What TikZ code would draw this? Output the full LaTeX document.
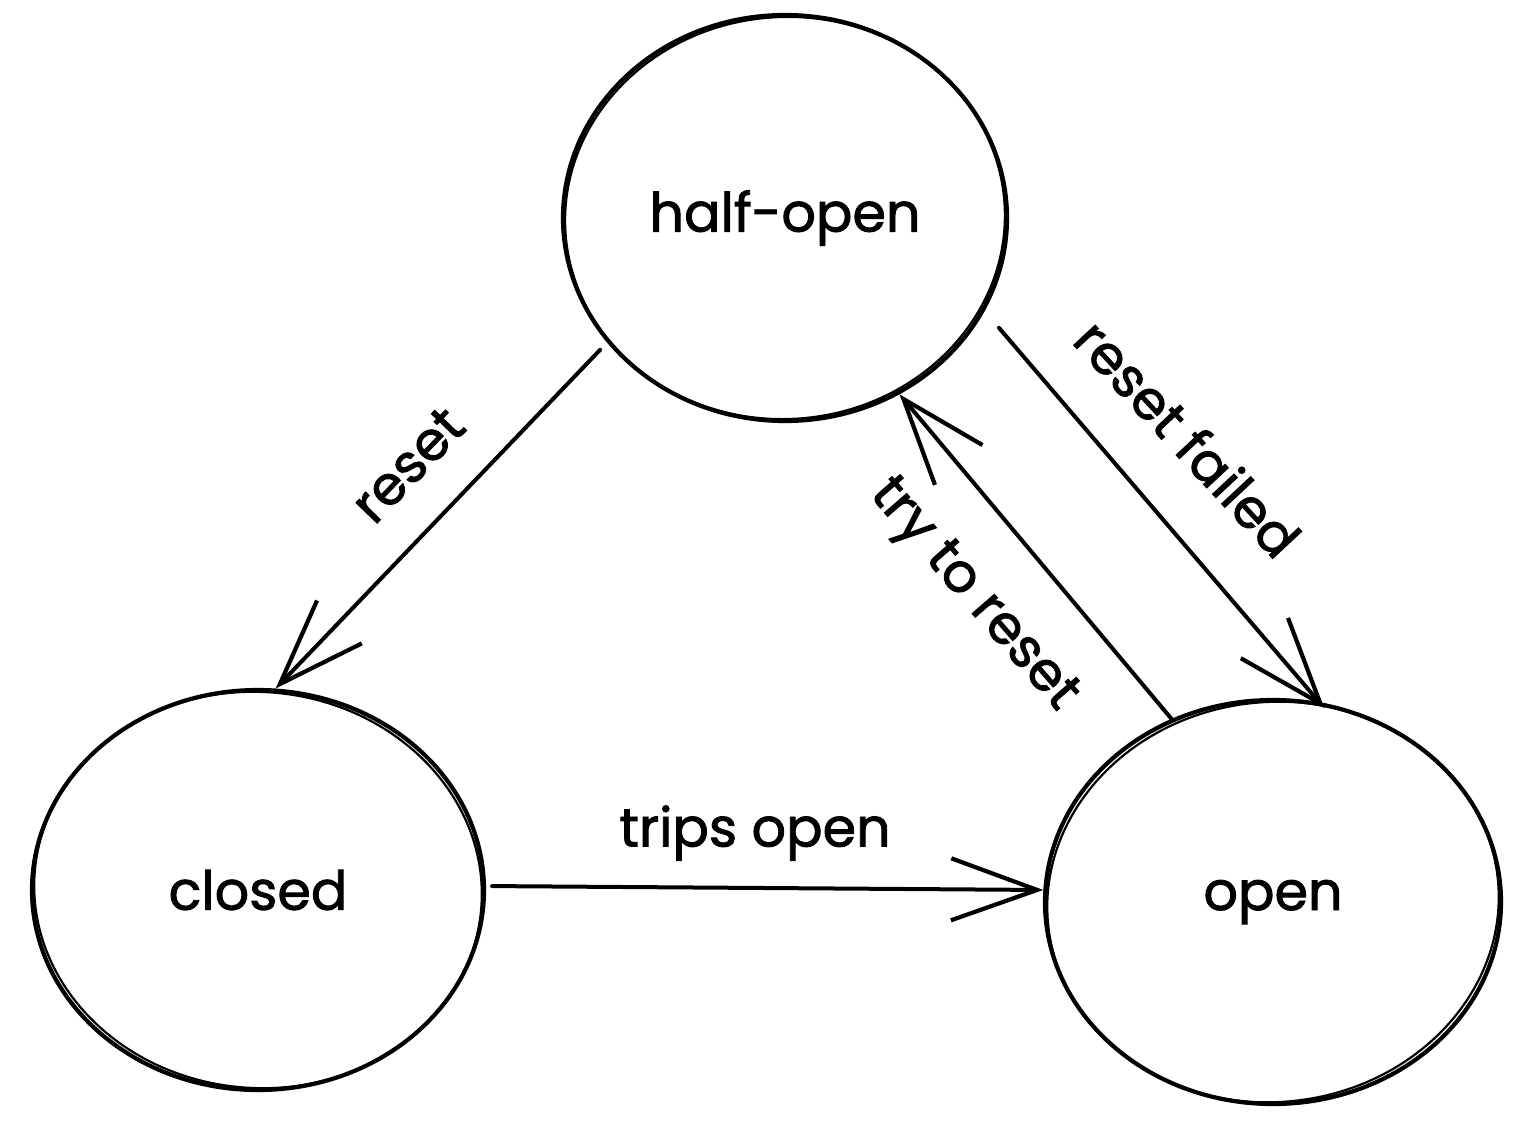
\documentclass[tikz,border=0pt]{standalone}
\usepackage{fontspec}
\setmainfont{Poppins}[FakeBold=1.6]
\usetikzlibrary{shapes.geometric,arrows.meta}
\tikzset{
  state/.style={ellipse, draw, line width=4.2pt, inner sep=0pt, font=\fontsize{54}{60}\selectfont},
  sk/.style={line width=2.2pt},
  conn/.style={line width=4pt, line cap=round, -{Straight Barb[length=86pt,width=62pt,line width=4.2pt]}},
  lbl/.style={font=\fontsize{54}{60}\selectfont, inner sep=0pt}
}
\begin{document}
\begin{tikzpicture}[x=1pt,y=-1pt]
\useasboundingbox (0,0) rectangle (1531,1122);
% states
\node[state, minimum width=444pt, minimum height=406pt] (half) at (785,218) {half-open};
\node[state, minimum width=452pt, minimum height=400pt] (closed) at (258,890) {closed};
\node[state, minimum width=456pt, minimum height=404pt] (open) at (1273,902) {open};
% second hand-drawn strokes
\draw[sk, rotate around={4:(half.center)}] (half.center) ellipse [x radius=220pt, y radius=201pt];
\draw[sk, rotate around={-5:(closed.center)}] (closed.center) ellipse [x radius=224pt, y radius=198pt];
\draw[sk, rotate around={6:(open.center)}] (open.center) ellipse [x radius=226pt, y radius=200pt];
% connectors
\draw[conn, shorten <=10pt] (half.215.6) -- (closed.85);
\draw[conn, shorten <=6pt] (closed.1) -- (open.177);
\draw[conn, shorten <=22pt, shorten >=-8pt] (half.-25) -- (open.77);
\draw[conn] (open.119.3) -- (half.-57.3);
% labels
\node[lbl, rotate=46] (lreset) at (408,465) {reset};
\node[lbl] (ltrips) at (755,833) {trips open};
\node[lbl, rotate=-47] (lfailed) at (1188,438) {reset failed};
\node[lbl, rotate=-49] (ltry) at (972,596) {try to reset};
\end{tikzpicture}
\end{document}
